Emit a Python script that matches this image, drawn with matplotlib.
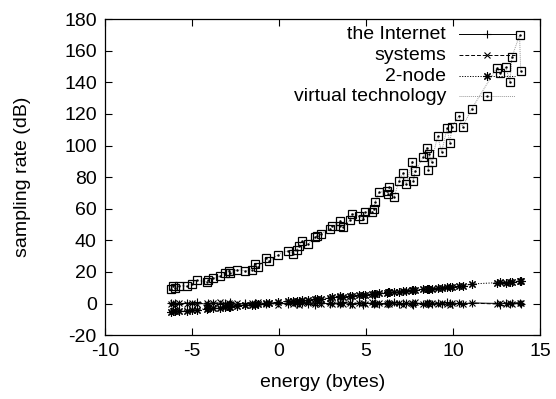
import matplotlib
matplotlib.use("Agg")
import matplotlib.pyplot as plt
from matplotlib.ticker import FixedLocator

plt.rcParams['font.family'] = ['Liberation Sans', 'DejaVu Sans']
plt.rcParams['axes.unicode_minus'] = False

x_vals = [-6.22, -6.07, -5.98, -5.73, -5.30, -5.02, -4.73, -4.16, -4.06, -3.78,
          -3.39, -3.10, -2.86, -2.82, -2.43, -1.95, -1.57, -1.38, -1.19, -0.77,
          -0.56, -0.04, 0.53, 0.82, 1.02, 1.15, 1.30, 1.69, 2.07, 2.20,
          2.40, 2.93, 3.03, 3.50, 3.52, 3.70, 4.08, 4.20, 4.62, 4.81,
          4.94, 5.33, 5.46, 5.52, 5.75, 6.19, 6.28, 6.34, 6.62, 6.90,
          7.14, 7.32, 7.66, 7.72, 7.84, 8.30, 8.49, 8.58, 8.64, 8.77,
          9.12, 9.35, 9.66, 9.83, 9.94, 10.33, 10.56, 11.07, 12.51, 12.70,
          13.05, 13.28, 13.39, 13.83, 13.90]

internet = [0.2, -0.5, 0.6, -0.3, 0.4, -0.1, 0.7, -0.6, 0.1, 0.5,
            -0.4, 0.3, -0.2, 0.8, -0.7, 0.2, -0.3, 0.6, 0.0, -0.5,
            0.4, 0.1, -0.2, 0.7, -0.4, 0.3, 0.5, -0.1, -0.6, 0.2,
            0.6, -0.3, 0.1, 0.4, -0.5, 0.7, 0.0, -0.2, 0.5, -0.6,
            0.3, 0.1, -0.4, 0.6, -0.1, 0.2, -0.5, 0.4, 0.8, -0.3,
            0.1, 0.5, -0.2, -0.6, 0.3, 0.0, 0.6, -0.4, 0.2, -0.1,
            0.5, -0.3, 0.7, 0.1, -0.5, 0.3, -0.2, 0.4, 0.1, -0.6,
            0.5, -0.2, 0.3, 0.6, -0.1]

systems = [-0.3, 0.5, -0.7, 0.2, -0.1, 0.6, -0.4, 0.3, -0.8, 0.1,
           0.7, -0.2, 0.4, -0.5, 0.3, -0.6, 0.5, -0.1, 0.8, -0.3,
           0.2, -0.6, 0.6, -0.2, 0.4, -0.7, 0.1, 0.5, -0.3, 0.7,
           -0.4, 0.3, -0.5, 0.0, 0.6, -0.2, 0.4, -0.6, 0.2, 0.5,
           -0.3, 0.7, -0.1, -0.5, 0.3, -0.4, 0.6, -0.2, 0.1, 0.5,
           -0.6, 0.2, 0.4, -0.3, 0.7, -0.5, 0.1, 0.5, -0.2, 0.3,
           -0.4, 0.6, -0.1, -0.6, 0.4, 0.2, -0.5, 0.3, -0.3, 0.6,
           -0.2, 0.4, -0.5, 0.2, 0.5]

two_node = [-5.3, -5.0, -4.9, -4.7, -4.4, -4.0, -3.8, -3.3, -3.0, -2.9,
            -2.5, -2.3, -1.9, -2.1, -1.6, -1.2, -0.7, -0.6, -0.4, 0.1,
            0.3, 0.9, 1.4, 1.6, 1.9, 1.8, 2.2, 2.4, 2.8, 3.1,
            3.2, 3.6, 3.9, 4.2, 4.5, 4.4, 4.8, 5.0, 5.3, 5.6,
            5.7, 6.0, 6.3, 6.1, 6.6, 6.9, 7.2, 7.0, 7.4, 7.6,
            7.8, 8.1, 8.3, 8.6, 8.4, 8.9, 9.2, 9.0, 9.4, 9.5,
            9.7, 10.1, 10.3, 10.6, 10.4, 10.8, 11.2, 12.4, 13.2, 13.5,
            13.0, 13.8, 13.4, 14.4, 14.0]

virtual_tech = [8.9, 10.8, 9.9, 11.4, 11.0, 12.4, 14.6, 13.9, 14.6, 16.0,
                17.3, 19.4, 20.9, 19.2, 21.5, 20.7, 21.5, 25.1, 23.0, 28.9,
                26.8, 31.0, 33.5, 31.4, 34.2, 36.7, 39.6, 37.8, 42.0, 43.0,
                44.1, 47.3, 49.0, 49.4, 52.5, 48.3, 53.0, 56.8, 55.7, 53.6,
                57.8, 57.8, 59.8, 64.1, 70.5, 71.0, 69.4, 73.6, 67.3, 77.8,
                82.7, 75.5, 89.9, 77.8, 84.0, 93.0, 98.5, 84.8, 94.7, 89.4,
                106.0, 96.0, 110.8, 101.5, 112.0, 118.5, 112.0, 123.0, 149.0, 146.0,
                149.6, 140.0, 155.9, 169.8, 147.0]

labels = ["the Internet", "systems", "2-node", "virtual technology"]
x_ticks = [-10, -5, 0, 5, 10, 15]
y_ticks = [-20, 0, 20, 40, 60, 80, 100, 120, 140, 160, 180]

fig = plt.figure(figsize=(5.56, 3.99), dpi=100)
ax = fig.add_axes([0.189, 0.160, 0.782, 0.792])

lw = 0.7
fs = 14
styles = [
    dict(ls='-', marker='+', color='black', ms=6, mew=0.8),
    dict(ls=(0, (4, 2)), marker='x', color='black', ms=5, mew=0.8),
    dict(ls=(0, (1.2, 1.5)), marker=(8, 2, 0), color='black', ms=6, mew=0.8),
    dict(ls=(0, (1, 1)), marker='s', color='#999999', ms=5.5, mew=0.9,
         mfc='none', mec='black'),
]
series = [internet, systems, two_node, virtual_tech]

for yv, st in zip(series, styles):
    ax.plot(x_vals, yv, lw=lw, **st)
ax.plot(x_vals, virtual_tech, ls='none', marker='.', ms=1.5, color='black')

ax.set_xlim(-10, 15)
ax.set_ylim(-20, 180)
ax.xaxis.set_major_locator(FixedLocator(x_ticks))
ax.yaxis.set_major_locator(FixedLocator(y_ticks))
ax.tick_params(direction='in', length=5, width=0.8, top=True, right=True,
               labelsize=fs, pad=6)
for s in ax.spines.values():
    s.set_linewidth(0.9)
ax.set_xlabel("energy (bytes)", fontsize=fs, labelpad=10)
ax.set_ylabel("sampling rate (dB)", fontsize=fs, labelpad=24)

# legend, gnuplot style (text right-aligned, sample to the right)
rows = [0.953, 0.886, 0.820, 0.756]
for lab, st, ry in zip(labels, styles, rows):
    ax.text(0.784, ry, lab, transform=ax.transAxes, ha='right', va='center',
            fontsize=fs)
    ax.plot([0.814, 0.943], [ry, ry], transform=ax.transAxes, lw=lw,
            ls=st['ls'], color=st['color'], clip_on=False)
    mk = {k: v for k, v in st.items() if k != 'ls'}
    ax.plot([0.878], [ry], transform=ax.transAxes, ls='none', clip_on=False, **mk)
ax.plot([0.878], [rows[3]], transform=ax.transAxes, ls='none', marker='.',
        ms=1.5, color='black', clip_on=False)

fig.savefig("out.png", dpi=100)
